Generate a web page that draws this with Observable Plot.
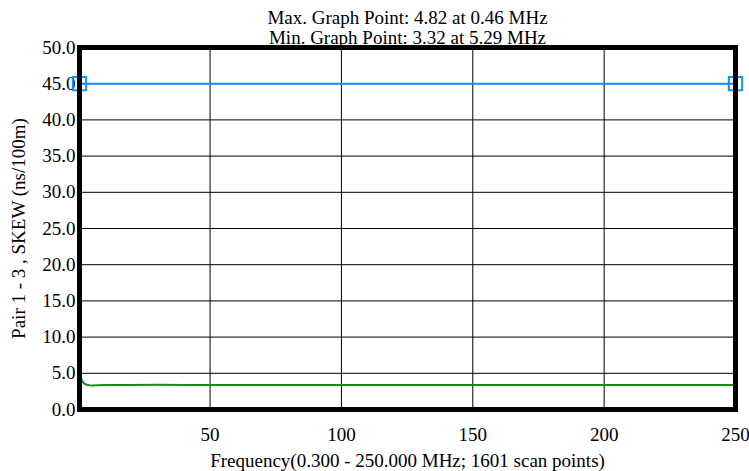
<!DOCTYPE html>
<html>
<head>
<meta charset="utf-8">
<script src="https://cdn.jsdelivr.net/npm/d3@7"></script>
<script src="https://cdn.jsdelivr.net/npm/@observablehq/plot@0.6"></script>
<style>
  html, body { margin: 0; padding: 0; background: #fff; }
  #chart svg { display: block; font-family: "Liberation Serif", "Times New Roman", serif; font-size: 19px; }
</style>
</head>
<body>
<div id="chart"></div>
<script>
const titleLines = ["Max. Graph Point: 4.82 at 0.46 MHz", "Min. Graph Point: 3.32 at 5.29 MHz"];
const yLabel = "Pair 1 - 3 , SKEW (ns/100m)";
const xLabel = "Frequency(0.300 - 250.000 MHz; 1601 scan points)";
const xTicks = [50, 100, 150, 200, 250];
const yTicks = [0, 5, 10, 15, 20, 25, 30, 35, 40, 45, 50];

const freq = [0.3, 0.46, 0.8, 1.2, 2, 3, 4, 5.29, 7, 10, 15, 20, 30, 40, 50, 60, 75, 90, 100, 120, 140, 150, 170, 190, 200, 220, 240, 250];
const skew = [4.7, 4.82, 4.5, 4.0, 3.6, 3.42, 3.36, 3.32, 3.34, 3.37, 3.39, 3.40, 3.41, 3.40, 3.40, 3.39, 3.38, 3.39, 3.38, 3.38, 3.39, 3.38, 3.38, 3.39, 3.38, 3.38, 3.38, 3.38];

const limitFreq = [0.3, 250];
const limitVal = [45, 45];

const data = freq.map((f, i) => ({f, v: skew[i]}));
const limit = limitFreq.map((f, i) => ({f, v: limitVal[i]}));

const chart = Plot.plot({
  width: 749,
  height: 471,
  marginLeft: 79,
  marginRight: 14,
  marginTop: 47,
  marginBottom: 62,
  style: {fontFamily: "'Liberation Serif', 'Times New Roman', serif", fontSize: "19px", color: "black", background: "white"},
  x: {domain: [0.3, 250]},
  y: {domain: [0, 50]},
  marks: [
    Plot.gridY(yTicks.slice(1, -1), {stroke: "black", strokeOpacity: 1, strokeWidth: 1}),
    Plot.gridX(xTicks.slice(0, -1), {stroke: "black", strokeOpacity: 1, strokeWidth: 1}),
    Plot.axisY({ticks: yTicks, tickFormat: d3.format(".1f"), tickSize: 0, tickPadding: 4, fontSize: 19,
      label: yLabel, labelAnchor: "center", labelArrow: "none", labelOffset: 68, fill: "black"}),
    Plot.axisX({ticks: xTicks, tickFormat: d => d, tickSize: 0, tickPadding: 18, fontSize: 19,
      label: xLabel, labelAnchor: "center", labelArrow: "none", labelOffset: 57, fill: "black"}),
    Plot.line(data, {x: "f", y: "v", stroke: "#1a8a1a", strokeWidth: 2}),
    Plot.line(limit, {x: "f", y: "v", stroke: "#1a8cff", strokeWidth: 2}),
    Plot.dot(limit, {x: "f", y: "v", symbol: "square", r: 7.5, stroke: "#1a8cff", strokeWidth: 2, fill: "none"}),
    Plot.frame({stroke: "black", strokeWidth: 5}),
    Plot.text([titleLines[0]], {text: d => d, frameAnchor: "top", lineAnchor: "middle", dy: -30, fontSize: 19, fill: "black"}),
    Plot.text([titleLines[1]], {text: d => d, frameAnchor: "top", lineAnchor: "middle", dy: -10, fontSize: 19, fill: "black"})
  ]
});
document.getElementById("chart").appendChild(chart);
</script>
</body>
</html>
